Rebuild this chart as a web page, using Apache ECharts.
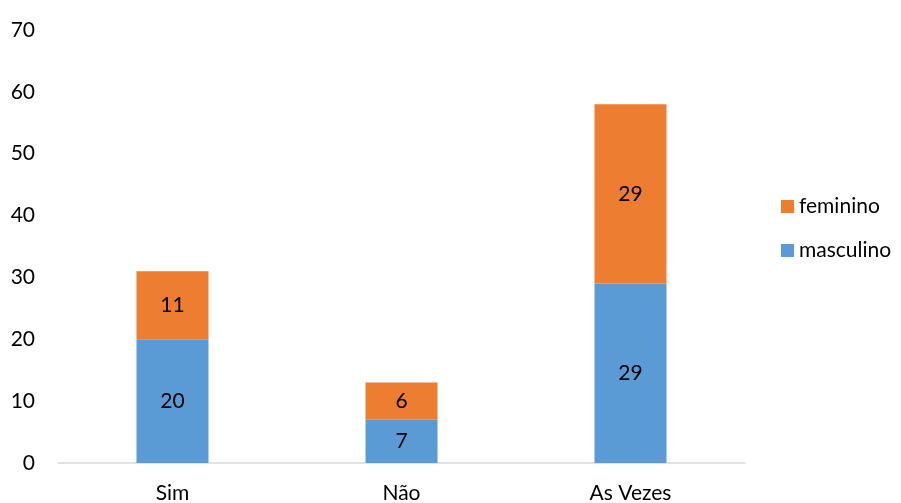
<!DOCTYPE html>
<html><head><meta charset="utf-8">
<script src="https://cdn.jsdelivr.net/npm/echarts@6/dist/echarts.min.js"></script>
<style>html,body{margin:0;padding:0;background:#fff}#c{width:901px;height:503px}</style>
</head><body><div id="c"></div>
<script>
const categories = ['Sim', 'Não', 'As Vezes'];
const masculino = [20, 7, 29];
const feminino = [11, 6, 29];
const yTicks = [0, 10, 20, 30, 40, 50, 60, 70];

const FONT = 'Lato';
const FS = 21;
const chart = echarts.init(document.getElementById('c'));
chart.setOption({
  animation: false,
  textStyle: { fontFamily: FONT },
  grid: { left: 58, right: 156, top: 30, bottom: 40, containLabel: false, outerBoundsMode: 'none' },
  legend: {
    orient: 'vertical', left: 776, top: 191,
    data: ['feminino', 'masculino'],
    itemWidth: 13, itemHeight: 13, itemGap: 23,
    icon: 'rect',
    textStyle: { fontSize: FS, color: '#000', fontFamily: FONT, padding: [0, 0, 0, 0] }
  },
  xAxis: {
    type: 'category', data: categories,
    axisLine: { lineStyle: { color: '#d9d9d9', width: 1.5 } },
    axisTick: { show: false },
    axisLabel: { fontSize: FS, color: '#000', margin: 20 }
  },
  yAxis: {
    type: 'value', min: yTicks[0], max: yTicks[yTicks.length - 1], interval: 10,
    splitLine: { show: false },
    axisLine: { show: false }, axisTick: { show: false },
    axisLabel: { fontSize: FS, color: '#000', margin: 23 }
  },
  series: [
    { name: 'masculino', type: 'bar', stack: 't', data: masculino, barWidth: 72,
      itemStyle: { color: '#5B9BD5' },
      label: { show: true, position: 'inside', color: '#000', fontSize: FS } },
    { name: 'feminino', type: 'bar', stack: 't', data: feminino, barWidth: 72,
      itemStyle: { color: '#ED7D31' },
      label: { show: true, position: 'inside', color: '#000', fontSize: FS } }
  ]
});
</script></body></html>
